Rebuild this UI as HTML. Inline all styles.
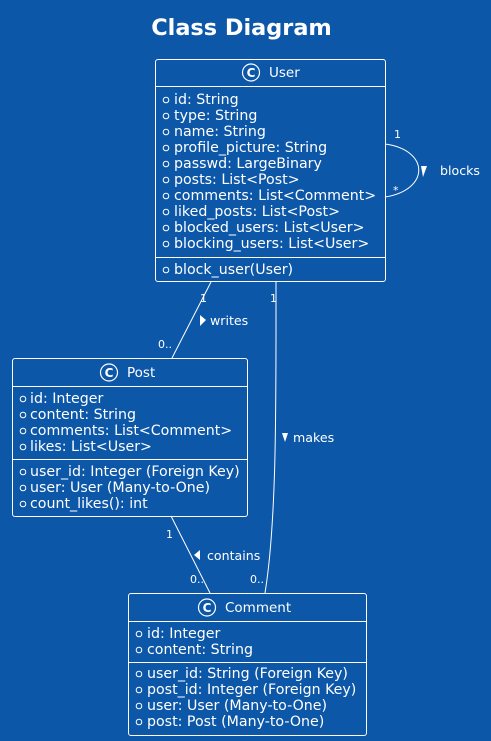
<!DOCTYPE html>
<html><head><meta charset="utf-8"><style>
html,body{margin:0;padding:0;background:#0c57a8;}
svg{display:block;font-family:"DejaVu Sans","Liberation Sans",sans-serif;}
</style></head><body>
<svg width="491" height="741" viewBox="0 0 491 741" xmlns="http://www.w3.org/2000/svg">
<rect width="491" height="741" fill="#0c57a8"/>
<text x="241.5" y="35" text-anchor="middle" font-size="22.4" font-weight="bold" fill="#fff">Class Diagram</text>
<g fill="none" stroke="#fff" stroke-width="1">
 <path d="M211,282 L172,358"/>
 <path d="M276,282 C276,400 277,520 265,593"/>
 <path d="M171,516 L210,593"/>
 <path d="M385,144 C430,150 430,190 385,197"/>
 <rect x="155.5" y="59.5" width="230" height="222" rx="2.5"/>
 <line x1="155.5" y1="86.5" x2="385.5" y2="86.5"/>
 <line x1="155.5" y1="257.5" x2="385.5" y2="257.5"/>
 <rect x="12.5" y="358.5" width="235" height="158" rx="2.5"/>
 <line x1="12.5" y1="386.5" x2="247.5" y2="386.5"/>
 <line x1="12.5" y1="459.5" x2="247.5" y2="459.5"/>
 <rect x="128.5" y="593.5" width="238" height="142" rx="2.5"/>
 <line x1="128.5" y1="621.5" x2="366.5" y2="621.5"/>
 <line x1="128.5" y1="662.5" x2="366.5" y2="662.5"/>
 <circle cx="251" cy="72.5" r="8.5" stroke-width="1.2"/>
 <circle cx="109" cy="372.5" r="8.5" stroke-width="1.2"/>
 <circle cx="207" cy="607.5" r="8.5" stroke-width="1.2"/>
</g>
<g fill="#fff" font-size="12" font-weight="bold" text-anchor="middle">
 <text x="251" y="77">C</text><text x="109" y="377">C</text><text x="207" y="612">C</text>
</g>
<g fill="#fff" font-size="13.5">
 <text x="269" y="77">User</text>
 <text x="127" y="377">Post</text>
 <text x="225" y="612">Comment</text>
</g>
<g fill="#fff">
 <polygon points="421,166 427,166 423,177"/>
 <polygon points="200,315 206,320 200,326"/>
 <polygon points="282,433 288,433 285,442"/>
 <polygon points="200,550 200,560 194,555"/>
</g>
<g fill="none" stroke="#fff" stroke-width="1">
 <circle cx="166" cy="100" r="2.8"/><circle cx="166" cy="116" r="2.8"/><circle cx="166" cy="132" r="2.8"/>
 <circle cx="166" cy="148" r="2.8"/><circle cx="166" cy="164" r="2.8"/><circle cx="166" cy="180" r="2.8"/>
 <circle cx="166" cy="196" r="2.8"/><circle cx="166" cy="212" r="2.8"/><circle cx="166" cy="228" r="2.8"/>
 <circle cx="166" cy="244" r="2.8"/><circle cx="166" cy="270" r="2.8"/>
 <circle cx="23" cy="399" r="2.8"/><circle cx="23" cy="415" r="2.8"/><circle cx="23" cy="431" r="2.8"/><circle cx="23" cy="447" r="2.8"/>
 <circle cx="23" cy="472" r="2.8"/><circle cx="23" cy="488" r="2.8"/><circle cx="23" cy="504" r="2.8"/>
 <circle cx="139" cy="634" r="2.8"/><circle cx="139" cy="650" r="2.8"/>
 <circle cx="139" cy="674" r="2.8"/><circle cx="139" cy="690" r="2.8"/><circle cx="139" cy="706" r="2.8"/><circle cx="139" cy="722" r="2.8"/>
</g>
<g fill="#fff" font-size="14.2">
 <text x="174" y="104">id: String</text>
 <text x="174" y="120">type: String</text>
 <text x="174" y="136">name: String</text>
 <text x="174" y="152">profile_picture: String</text>
 <text x="174" y="168">passwd: LargeBinary</text>
 <text x="174" y="184">posts: List&lt;Post&gt;</text>
 <text x="174" y="200">comments: List&lt;Comment&gt;</text>
 <text x="174" y="216">liked_posts: List&lt;Post&gt;</text>
 <text x="174" y="232">blocked_users: List&lt;User&gt;</text>
 <text x="174" y="248">blocking_users: List&lt;User&gt;</text>
 <text x="174" y="274">block_user(User)</text>

 <text x="30" y="403">id: Integer</text>
 <text x="30" y="419">content: String</text>
 <text x="30" y="435">comments: List&lt;Comment&gt;</text>
 <text x="30" y="451">likes: List&lt;User&gt;</text>
 <text x="30" y="476">user_id: Integer (Foreign Key)</text>
 <text x="30" y="492">user: User (Many-to-One)</text>
 <text x="30" y="508">count_likes(): int</text>

 <text x="147" y="638">id: Integer</text>
 <text x="147" y="654">content: String</text>
 <text x="147" y="678">user_id: String (Foreign Key)</text>
 <text x="147" y="694">post_id: Integer (Foreign Key)</text>
 <text x="147" y="710">user: User (Many-to-One)</text>
 <text x="147" y="726">post: Post (Many-to-One)</text>
</g>
<g fill="#fff" font-size="12.6">
 <text x="440" y="175">blocks</text>
 <text x="210" y="325">writes</text>
 <text x="293" y="442">makes</text>
 <text x="207" y="560">contains</text>
</g>
<g fill="#fff" font-size="11">
 <text x="394" y="138">1</text>
 <text x="393" y="194">*</text>
 <text x="200" y="302">1</text>
 <text x="270" y="302">1</text>
 <text x="158" y="348">0..</text>
 <text x="166" y="538">1</text>
 <text x="190" y="583">0..</text>
 <text x="250" y="583">0..</text>
</g>
</svg>
</body></html>
